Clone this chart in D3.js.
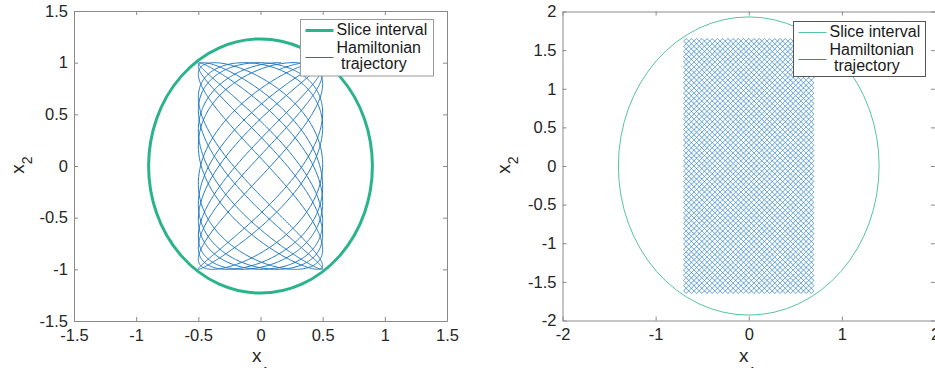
<!DOCTYPE html>
<html>
<head>
<meta charset="utf-8">
<script src="https://cdn.jsdelivr.net/npm/d3@7"></script>
<style>
  body { margin: 0; background: #fff; }
  svg { display: block; font-family: "Liberation Sans", Arial, Helvetica, sans-serif; }
  .domain { stroke: #8a8a8a; }
  .tick line { stroke: #8a8a8a; }
  .tick text { fill: #262626; font-size: 16.5px; }
</style>
</head>
<body>
<svg id="chart" width="935" height="368"></svg>
<script>
var width = 935;
var height = 368;

// tick values / labels (same on both axes of a panel)
var leftTicks = [-1.5, -1, -0.5, 0, 0.5, 1, 1.5];
var rightXTicks = [-2, -1, 0, 1, 2];
var rightYTicks = [-2, -1.5, -1, -0.5, 0, 0.5, 1, 1.5, 2];

// slice interval ellipses, semi axes [x1, x2]
var leftEllipse = [0.90, 1.23];
var rightEllipse = [1.40, 1.93];

// trajectory parameters
// left: smooth oscillation, amplitudes / frequencies / phases / duration
var leftAmp = [0.5, 1.0];
var leftFreq = [1.0, 0.647];
var leftPhase = [0.3, 1.2];
var leftDuration = 88;
// right: straight bouncing trajectory inside a box
var rightAmp = [0.70, 1.65];
var rightFreq = [49, 25];
var rightPhase = [0.13, 0.0];

var legendLabels = ['Slice interval', 'Hamiltonian', ' trajectory'];

var green = '#2bb38c';
var blue = '#1a76c2';

var svg = d3.select('#chart');

function tri(u) {
  return 2 * Math.abs(2 * (u - Math.floor(u + 0.5))) - 1;
}

var leftPts = [];
for (var t = 0; t <= leftDuration; t += 0.02) {
  leftPts.push([leftAmp[0] * Math.sin(leftFreq[0] * t + leftPhase[0]),
                leftAmp[1] * Math.sin(leftFreq[1] * t + leftPhase[1])]);
}
var rightPts = [];
for (var i = 0; i <= 40000; i++) {
  var s = i / 40000;
  rightPts.push([rightAmp[0] * tri(rightFreq[0] * s + rightPhase[0]),
                 rightAmp[1] * tri(rightFreq[1] * s + rightPhase[1])]);
}

function drawPanel(p) {
  var g = svg.append('g');
  var x = d3.scaleLinear().domain(p.xDomain).range([p.left, p.right]);
  var y = d3.scaleLinear().domain(p.yDomain).range([p.bottom, p.top]);

  // trajectory
  var line = d3.line()
    .x(function(d) { return x(d[0]); })
    .y(function(d) { return y(d[1]); });
  g.append('path')
    .datum(p.traj)
    .attr('fill', 'none')
    .attr('stroke', p.trajColor)
    .attr('stroke-width', p.trajWidth)
    .attr('d', line);

  // slice interval
  g.append('ellipse')
    .attr('cx', x(0))
    .attr('cy', y(0))
    .attr('rx', x(p.ellipse[0]) - x(0))
    .attr('ry', y(0) - y(p.ellipse[1]))
    .attr('fill', 'none')
    .attr('stroke', p.ellipseColor)
    .attr('stroke-width', p.ellipseWidth);

  // axes, ticks inside
  g.append('g')
    .attr('transform', 'translate(0,' + p.bottom + ')')
    .call(d3.axisBottom(x).tickValues(p.xTicks).tickSize(-4).tickSizeOuter(0)
      .tickPadding(8).tickFormat(function(d) { return String(d); }));
  g.append('g')
    .attr('transform', 'translate(' + p.left + ',0)')
    .call(d3.axisLeft(y).tickValues(p.yTicks).tickSize(-4).tickSizeOuter(0)
      .tickPadding(6).tickFormat(function(d) { return String(d); }));
  g.append('g')
    .attr('transform', 'translate(0,' + p.top + ')')
    .call(d3.axisTop(x).tickValues(p.xTicks).tickSize(-4).tickSizeOuter(0).tickFormat(''));
  g.append('g')
    .attr('transform', 'translate(' + p.right + ',0)')
    .call(d3.axisRight(y).tickValues(p.yTicks).tickSize(-4).tickSizeOuter(0).tickFormat(''));

  // axis labels (the x1 subscript runs off the bottom edge, as in the figure)
  var xl = g.append('text')
    .attr('x', p.xLabelX)
    .attr('y', 362)
    .attr('font-size', 19)
    .attr('fill', '#262626');
  xl.append('tspan').text('x');
  xl.append('tspan').attr('dy', 15).attr('font-size', 14).text('1');

  var yl = g.append('text')
    .attr('transform', 'translate(' + p.yLabelX + ',165) rotate(-90)')
    .attr('text-anchor', 'middle')
    .attr('font-size', 19)
    .attr('fill', '#262626');
  yl.append('tspan').text('x');
  yl.append('tspan').attr('dy', 8).attr('font-size', 14).text('2');

  // legend
  var lg = g.append('g').attr('transform', 'translate(' + p.legend[0] + ',' + p.legend[1] + ')');
  lg.append('rect')
    .attr('width', p.legend[2])
    .attr('height', p.legend[3])
    .attr('fill', '#fff')
    .attr('stroke', p.legendBorder)
    .attr('stroke-width', 1);
  lg.append('line')
    .attr('x1', 5).attr('x2', 33).attr('y1', 11).attr('y2', 11)
    .attr('stroke', p.ellipseColor).attr('stroke-width', p.ellipseWidth);
  lg.append('line')
    .attr('x1', 5).attr('x2', 33).attr('y1', 38).attr('y2', 38)
    .attr('stroke', p.trajColor).attr('stroke-width', 1);
  lg.selectAll('text.lab')
    .data(legendLabels)
    .enter().append('text')
      .attr('class', 'lab')
      .attr('x', 36)
      .attr('y', function(d, i) { return [15.5, 33.5, 49.5][i]; })
      .attr('font-size', 16)
      .attr('fill', '#1a1a1a')
      .attr('xml:space', 'preserve')
      .style('white-space', 'pre')
      .text(function(d) { return d; });
}

drawPanel({
  xDomain: [-1.5, 1.5], yDomain: [-1.5, 1.5],
  left: 74, right: 447, top: 11, bottom: 321,
  xTicks: leftTicks, yTicks: leftTicks,
  traj: leftPts, trajWidth: 1, trajColor: blue,
  ellipse: leftEllipse, ellipseColor: green, ellipseWidth: 3,
  xLabelX: 252, yLabelX: 23.5,
  legend: [300.5, 19.5, 133, 56.5], legendBorder: '#9a9a9a'
});

drawPanel({
  xDomain: [-2, 2], yDomain: [-2, 2],
  left: 562.5, right: 935, top: 11.5, bottom: 320.5,
  xTicks: rightXTicks, yTicks: rightYTicks,
  traj: rightPts, trajWidth: 0.9, trajColor: '#2f84cc',
  ellipse: rightEllipse, ellipseColor: '#55c4a0', ellipseWidth: 1,
  xLabelX: 739, yLabelX: 510,
  legend: [793.5, 21.5, 132, 55], legendBorder: '#555'
});
</script>
</body>
</html>
